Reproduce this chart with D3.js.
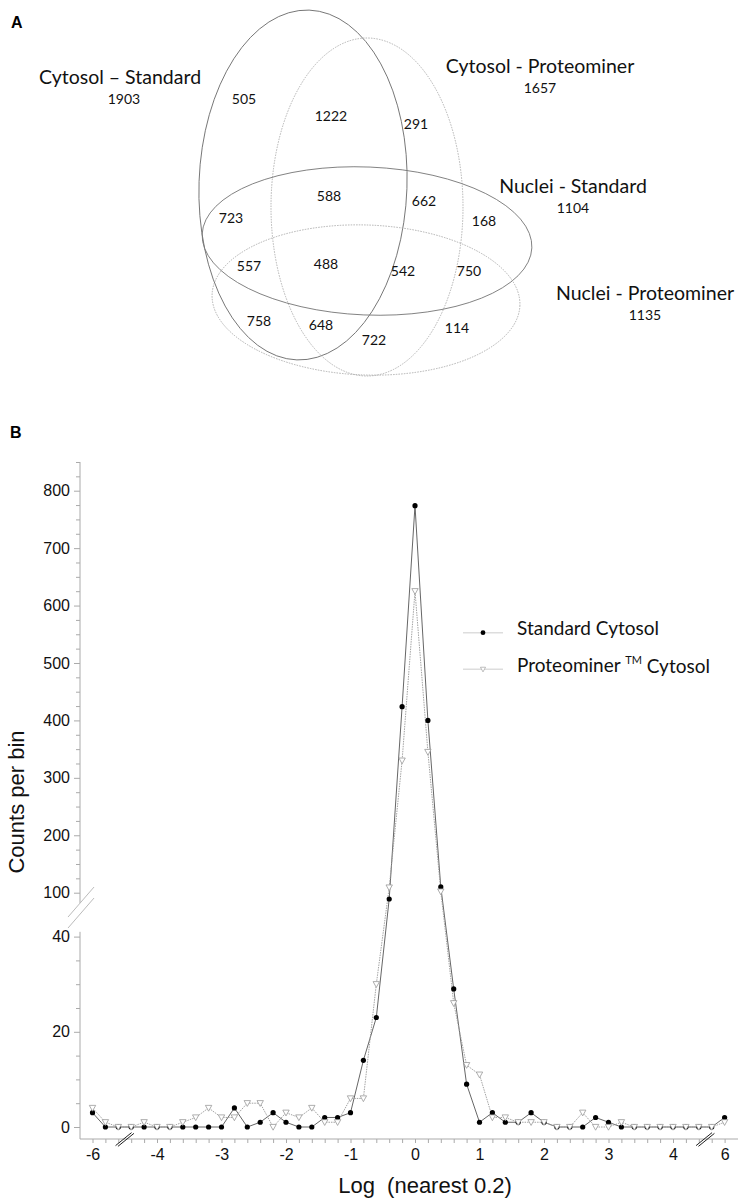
<!DOCTYPE html>
<html>
<head>
<meta charset="utf-8">
<script src="https://cdn.jsdelivr.net/npm/d3@7"></script>
<style>
  body { margin: 0; background: #fff; }
</style>
</head>
<body>
<div id="chart"></div>
<script>
// ---- panel A: Venn counts ----
const setNames = ["Cytosol \u2013 Standard", "Cytosol - Proteominer", "Nuclei - Standard", "Nuclei - Proteominer"];
const setTotals = [1903, 1657, 1104, 1135];
const regionCounts = [505, 1222, 291, 723, 588, 662, 168, 557, 488, 542, 750, 758, 648, 722, 114];

// ---- panel B: histogram of log ratios ----
const bins = [-6, -5.8, -5.6,
  -4.4, -4.2, -4.0, -3.8, -3.6, -3.4, -3.2, -3.0, -2.8, -2.6, -2.4, -2.2, -2.0, -1.8, -1.6, -1.4, -1.2, -1.0,
  -0.8, -0.6, -0.4, -0.2, 0, 0.2, 0.4, 0.6, 0.8, 1.0, 1.2, 1.4, 1.6, 1.8, 2.0, 2.2, 2.4, 2.6, 2.8, 3.0,
  3.2, 3.4, 3.6, 3.8, 4.0, 4.2, 4.4,
  5.8, 6];
const standardCytosol = [3, 0, 0,
  0, 0, 0, 0, 0, 0, 0, 0, 4, 0, 1, 3, 1, 0, 0, 2, 2, 3,
  14, 23, 89, 424, 774, 400, 110, 29, 9, 1, 3, 1, 1, 3, 1, 0, 0, 0, 2, 1,
  0, 0, 0, 0, 0, 0, 0,
  0, 2];
const proteominerCytosol = [4, 1, 0,
  0, 1, 0, 0, 1, 2, 4, 2, 2, 5, 5, 0, 3, 2, 4, 1, 1, 6,
  6, 30, 109, 330, 625, 345, 102, 26, 13, 11, 2, 2, 1, 1, 1, 0, 0, 3, 0, 0,
  1, 0, 0, 0, 0, 0, 0,
  0, 1];
const xLabels = [-6, -4, -3, -2, -1, 0, 1, 2, 3, 4, 6];
const yLabelsHigh = [100, 200, 300, 400, 500, 600, 700, 800];
const yLabelsLow = [0, 20, 40];
const seriesNames = ["Standard Cytosol", "Proteominer", "Cytosol"];

const W = 742, H = 1204;
const svg = d3.select("#chart").append("svg")
  .attr("width", W).attr("height", H)
  .style("background", "#fff");

const venFont = "Lato, 'Open Sans', sans-serif";
const axFont = "'Liberation Sans', Arial, sans-serif";

// panel letters
svg.append("text").attr("x", 11).attr("y", 28).text("A")
  .attr("font-family", axFont).attr("font-weight", "bold").attr("font-size", 16);
svg.append("text").attr("x", 10).attr("y", 438).text("B")
  .attr("font-family", axFont).attr("font-weight", "bold").attr("font-size", 16);

// ---------- Venn ----------
const ellipses = [
  {cx: 303, cy: 185, rx: 104, ry: 175, rot: 2, stroke: "#6a6a6a", dash: null},
  {cx: 367, cy: 207, rx: 96, ry: 169, rot: 0, stroke: "#aaa", dash: "1.5,1.2"},
  {cx: 367, cy: 241, rx: 165, ry: 74, rot: 2.4, stroke: "#777", dash: null},
  {cx: 366, cy: 300, rx: 154, ry: 75, rot: 2, stroke: "#aaa", dash: "1.5,1.2"}
];
svg.append("g").selectAll("ellipse")
  .data(ellipses)
  .join("ellipse")
  .attr("transform", d => `translate(${d.cx},${d.cy}) rotate(${d.rot})`)
  .attr("rx", d => d.rx).attr("ry", d => d.ry)
  .attr("fill", "none")
  .attr("stroke", d => d.stroke)
  .attr("stroke-width", 0.9)
  .attr("stroke-dasharray", d => d.dash);

const setLabelPos = [[120, 77], [540, 66], [573, 186], [645, 293]];
const totalPos = [[124, 99], [540, 88], [573, 208], [645, 315]];
const regionPos = [[244, 99], [331, 116], [416, 124], [231, 218], [329, 196], [424, 201], [484, 221],
  [249, 266], [326, 264], [403, 271], [469, 271], [259, 321], [321, 325], [374, 340], [457, 328]];

const venn = svg.append("g").attr("font-family", venFont).attr("fill", "#111").attr("text-anchor", "middle");
venn.selectAll(".setname")
  .data(setNames)
  .join("text")
  .attr("x", (d, i) => setLabelPos[i][0])
  .attr("y", (d, i) => setLabelPos[i][1])
  .attr("dy", "0.35em")
  .attr("font-size", 19.5)
  .text(d => d);
venn.selectAll(".total")
  .data(setTotals)
  .join("text")
  .attr("x", (d, i) => totalPos[i][0])
  .attr("y", (d, i) => totalPos[i][1])
  .attr("dy", "0.35em")
  .attr("font-size", 14)
  .text(d => d);
venn.selectAll(".region")
  .data(regionCounts)
  .join("text")
  .attr("x", (d, i) => regionPos[i][0])
  .attr("y", (d, i) => regionPos[i][1])
  .attr("dy", "0.35em")
  .attr("font-size", 14)
  .text(d => d);

// ---------- Histogram ----------
// plain linear position, then a broken scale that squeezes the gaps
const xLin = d3.scaleLinear().domain([0, 1]).range([415, 479.5]);
const x = d3.scaleLinear()
  .domain([-6, -5.6, -4.4, 4.4, 5.8, 6])
  .range([xLin(-5), xLin(-4.6), xLin(-4.4), xLin(4.4), xLin(4.6), xLin(4.8)]);

const yLow = d3.scaleLinear().domain([0, 40]).range([1127, 936.6]);
const yHigh = d3.scaleLinear().domain([100, 800]).range([892.7, 490.7]);
const y = d3.scaleLinear()
  .domain([0, 41, 82, 850])
  .range([yLow(0), yLow(41), yHigh(82), yHigh(850)]);

const axisX0 = 80, axisX1 = 738, axisY = 1139;
const axisColor = "#aaa";

// x axis
const gx = svg.append("g").attr("transform", `translate(0,${axisY})`)
  .call(d3.axisBottom(x).tickValues(bins).tickSize(4)
    .tickFormat(d => xLabels.includes(d) ? d : ""));
gx.select(".domain").remove();
gx.selectAll(".tick line").attr("stroke", axisColor);
gx.selectAll(".tick text").attr("font-family", axFont).attr("font-size", 16)
  .attr("fill", "#111").attr("dy", "0.9em").text(d => xLabels.includes(d) ? (d < 0 ? "-" + (-d) : d) : "");
gx.append("line").attr("x1", axisX0).attr("x2", axisX1).attr("stroke", axisColor);

// x break marks
[[-5.6, -4.4], [4.4, 5.8]].forEach(([a, b]) => {
  const cx = (x(a) + x(b)) / 2;
  [-1.2, 1.2].forEach(o => {
    svg.append("line")
      .attr("x1", cx - 8 + o).attr("y1", axisY + 7 + o * 0.3)
      .attr("x2", cx + 8 + o).attr("y2", axisY - 6 + o * 0.3)
      .attr("stroke", "#222").attr("stroke-width", 1);
  });
});

// y axis: upper segment
const gyH = svg.append("g").attr("transform", `translate(${axisX0},0)`)
  .call(d3.axisLeft(y).tickValues(d3.range(100, 851, 25)).tickSize(4)
    .tickFormat(d => yLabelsHigh.includes(d) ? d : ""));
// lower segment
const gyL = svg.append("g").attr("transform", `translate(${axisX0},0)`)
  .call(d3.axisLeft(y).tickValues(d3.range(0, 41, 5)).tickSize(4)
    .tickFormat(d => yLabelsLow.includes(d) ? d : ""));
[gyH, gyL].forEach(g => {
  g.select(".domain").remove();
  g.selectAll(".tick line").attr("stroke", axisColor)
    .attr("x2", function() { return d3.select(this.parentNode).select("text").text() ? -6 : -4; });
  g.selectAll(".tick text").attr("font-family", axFont).attr("font-size", 16)
    .attr("fill", "#111").attr("x", -10);
});
svg.append("line").attr("x1", axisX0).attr("x2", axisX0)
  .attr("y1", y(850)).attr("y2", y(82)).attr("stroke", axisColor);
svg.append("line").attr("x1", axisX0).attr("x2", axisX0)
  .attr("y1", yLow(41)).attr("y2", axisY).attr("stroke", axisColor);

// y break marks
[0, 11].forEach(o => {
  svg.append("line")
    .attr("x1", 68).attr("y1", y(82) + 14 + o)
    .attr("x2", 94).attr("y2", y(82) - 16 + o)
    .attr("stroke", "#bbb").attr("stroke-width", 1);
});

// axis titles
svg.append("text")
  .attr("transform", `translate(24,802) rotate(-90)`)
  .attr("text-anchor", "middle")
  .attr("font-family", axFont).attr("font-size", 22).attr("fill", "#111")
  .text("Counts per bin");
svg.append("text")
  .attr("x", 425).attr("y", 1193)
  .attr("text-anchor", "middle")
  .attr("font-family", axFont).attr("font-size", 22).attr("fill", "#111")
  .attr("xml:space", "preserve")
  .style("white-space", "pre")
  .text("Log  (nearest 0.2)");

// lines
const line = vals => d3.line().x((d, i) => x(bins[i])).y(d => y(d))(vals);
svg.append("path").attr("d", line(standardCytosol))
  .attr("fill", "none").attr("stroke", "#555").attr("stroke-width", 0.9);
svg.append("path").attr("d", line(proteominerCytosol))
  .attr("fill", "none").attr("stroke", "#999").attr("stroke-width", 0.9)
  .attr("stroke-dasharray", "1.5,1");

const triPath = "M-3.2,-2.6L3.2,-2.6L0,3.2Z";

svg.append("g").selectAll("circle")
  .data(standardCytosol)
  .join("circle")
  .attr("cx", (d, i) => x(bins[i]))
  .attr("cy", d => y(d))
  .attr("r", 2.6)
  .attr("fill", "#000");
svg.append("g").selectAll("path")
  .data(proteominerCytosol)
  .join("path")
  .attr("transform", (d, i) => `translate(${x(bins[i])},${y(d)})`)
  .attr("d", triPath)
  .attr("fill", "#fff")
  .attr("stroke", "#999")
  .attr("stroke-width", 0.8);

// legend
const lg = svg.append("g").attr("font-family", venFont).attr("fill", "#111");
[632.7, 669.3].forEach((ly, i) => {
  lg.append("line").attr("x1", 463).attr("x2", 503).attr("y1", ly).attr("y2", ly)
    .attr("stroke", "#ddd").attr("stroke-width", 1.5);
});
lg.append("circle").attr("cx", 483).attr("cy", 632.7).attr("r", 2.4).attr("fill", "#000");
lg.append("path").attr("transform", "translate(483,669.3) scale(0.8)").attr("d", triPath)
  .attr("fill", "#fff").attr("stroke", "#999").attr("stroke-width", 0.8);
lg.append("text").attr("x", 517).attr("y", 628).attr("dy", "0.35em").attr("font-size", 19)
  .text(seriesNames[0]);
const t2 = lg.append("text").attr("x", 517).attr("y", 665).attr("dy", "0.35em").attr("font-size", 19);
t2.append("tspan").text(seriesNames[1] + " ");
t2.append("tspan").attr("font-size", 11).attr("dy", "-0.7em").text("TM");
t2.append("tspan").attr("font-size", 19).attr("dy", "0.45em").text(" " + seriesNames[2]);
</script>
</body>
</html>
